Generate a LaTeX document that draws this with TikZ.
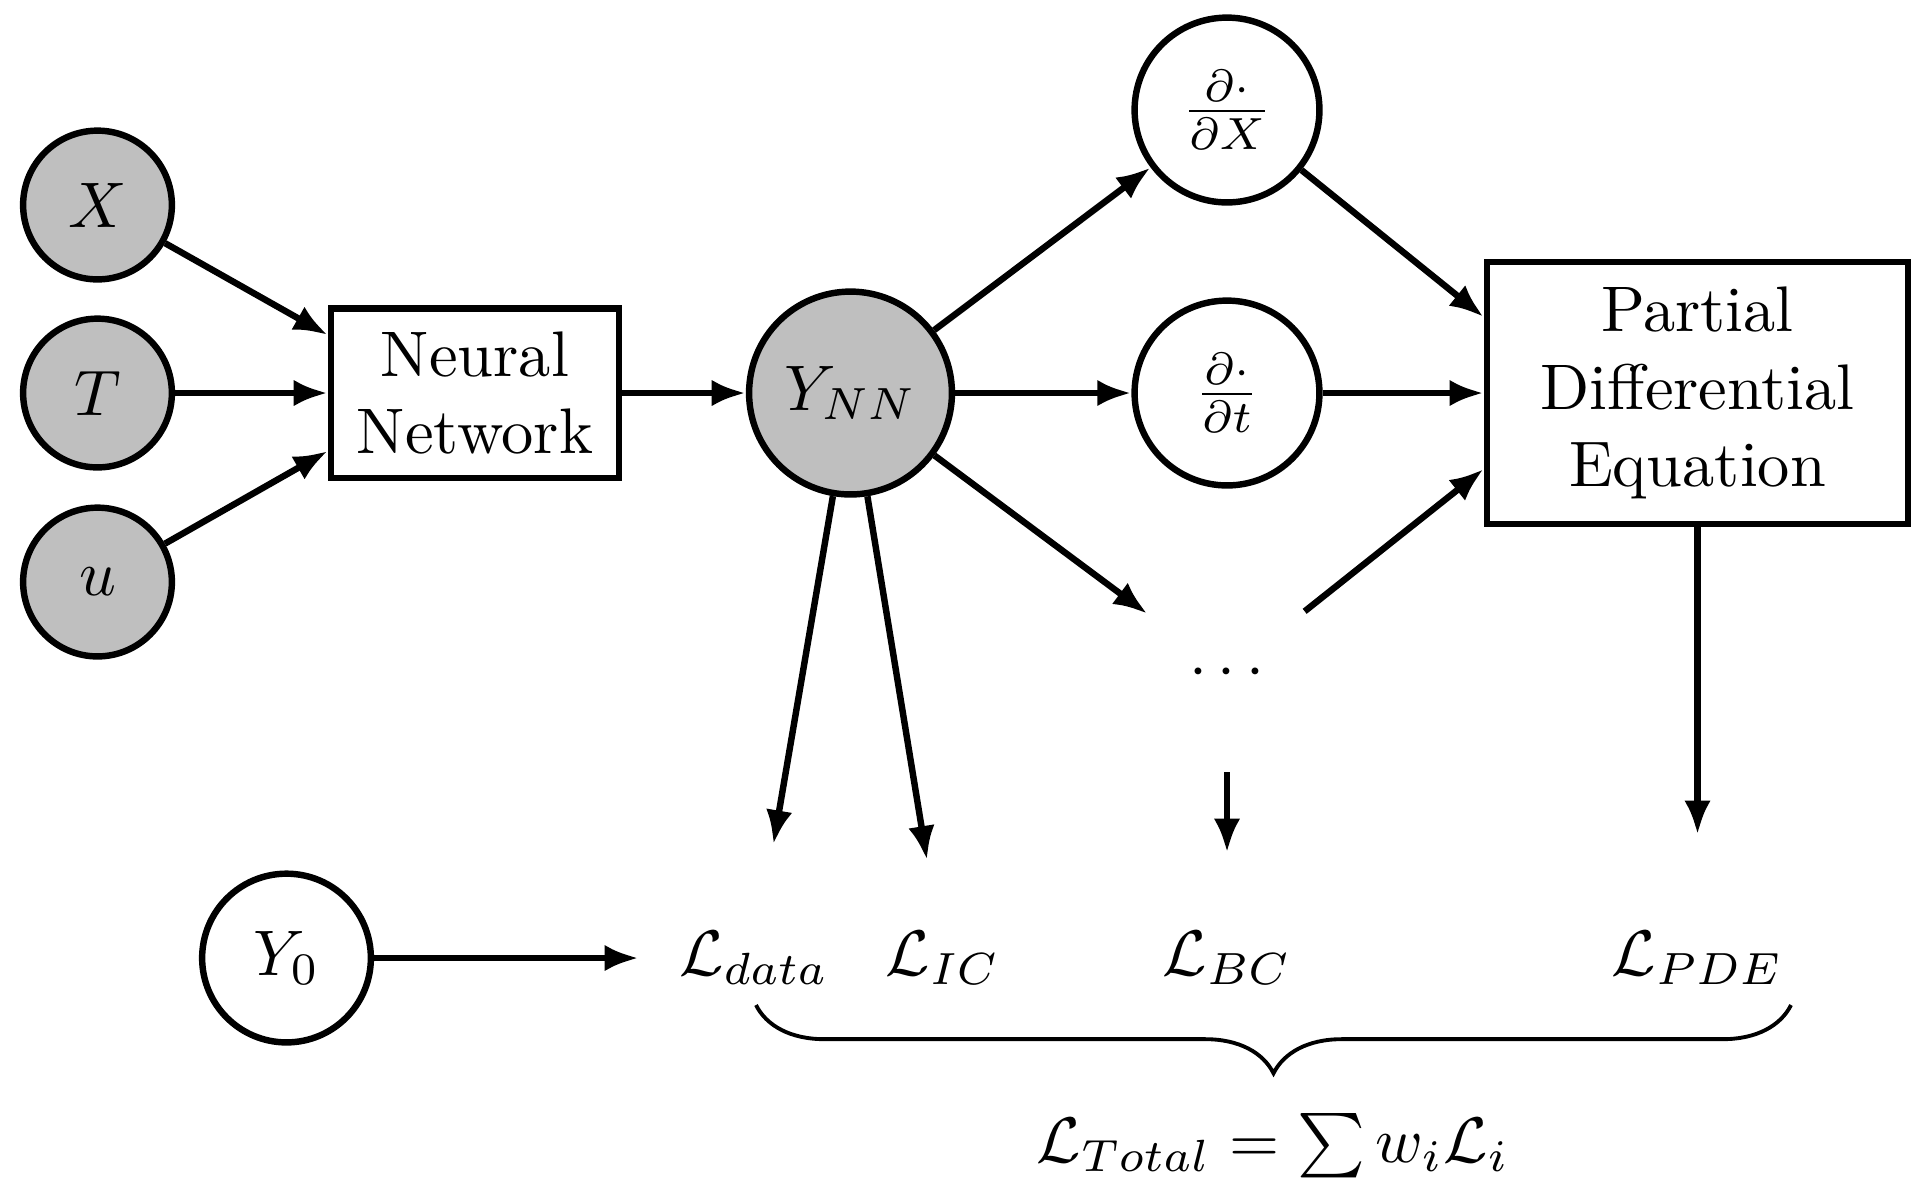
\documentclass[tikz,border=0pt]{standalone}
\usetikzlibrary{arrows.meta,decorations.pathreplacing}
\begin{document}
\begin{tikzpicture}[x=0.15528pt,y=-0.15528pt,
  line width=1pt,
  arr/.style={-{Latex[length=5.3pt,width=4.1pt]}},
  invar/.style={circle,draw,fill=lightgray,inner sep=1pt,minimum size=23.1pt},
  opnode/.style={circle,draw,inner sep=1pt,minimum size=28.7pt},
  boxnode/.style={rectangle,draw,inner sep=0pt,align=center},
  lossnode/.style={circle,inner sep=1pt}]
\useasboundingbox (0,0) rectangle (1929,1199);
% inputs
\node[invar] (X) at (97.5,205) {$X$};
\node[invar] (T) at (97.5,393) {$T$};
\node[invar] (u) at (97.5,582) {$u$};
% neural network
\node[boxnode,minimum width=44.7pt,minimum height=26.3pt] (nn) at (475,393) {Neural\\Network};
\node[circle,draw,fill=lightgray,inner sep=1pt,minimum size=31.5pt] (ynn) at (850.5,393) {$Y_{NN}$};
% derivatives
\node[opnode] (dx) at (1227,110) {$\frac{\partial\cdot}{\partial X}$};
\node[opnode] (dt) at (1227,393) {$\frac{\partial\cdot}{\partial t}$};
\node[circle,inner sep=1pt,minimum size=29.8pt] (dots) at (1227,673) {$\cdots$};
% PDE
\node[boxnode,minimum width=65.4pt,minimum height=40.7pt] (pde) at (1697.5,393) {Partial\\Differential\\Equation};
% data
\node[circle,draw,inner sep=1pt,minimum size=26.2pt] (y0) at (286.5,958) {$Y_0$};
% losses
\node[lossnode,minimum size=34.8pt] (ldata) at (754,958) {$\mathcal{L}_{data}$};
\node[lossnode,minimum size=29.8pt] (lic) at (943,958) {$\mathcal{L}_{IC}$};
\node[lossnode,minimum size=31.7pt] (lbc) at (1227,958) {$\mathcal{L}_{BC}$};
\node[lossnode,minimum size=37.3pt] (lpde) at (1697.5,958) {$\mathcal{L}_{PDE}$};
\node[anchor=base] (ltot) at (1273,1162) {$\mathcal{L}_{Total}=\sum w_i\mathcal{L}_i$};
% connectors
\draw[arr] (X) -- ([yshift=9pt]nn.west);
\draw[arr] (T) -- (nn.west);
\draw[arr] (u) -- ([yshift=-9pt]nn.west);
\draw[arr] (nn) -- (ynn);
\draw[arr] (ynn) -- (dx);
\draw[arr] (ynn) -- (dt);
\draw[arr] (ynn) -- (dots);
\draw[arr] (dx) -- ([yshift=11.8pt]pde.west);
\draw[arr] (dt) -- (pde.west);
\draw[arr] (dots) -- ([yshift=-11.8pt]pde.west);
\draw[arr] (ynn) -- (ldata);
\draw[arr] (ynn) -- (lic);
\draw[arr] (dots) -- (lbc);
\draw[arr] (pde) -- (lpde);
\draw[arr] (y0) -- (ldata);
% brace
\coordinate (bl) at (756,1005);
\coordinate (br) at (1791,1005);
\draw[line width=0.6pt,decorate,decoration={brace,mirror,amplitude=10.6pt}] (bl) -- (br);
\end{tikzpicture}
\end{document}
